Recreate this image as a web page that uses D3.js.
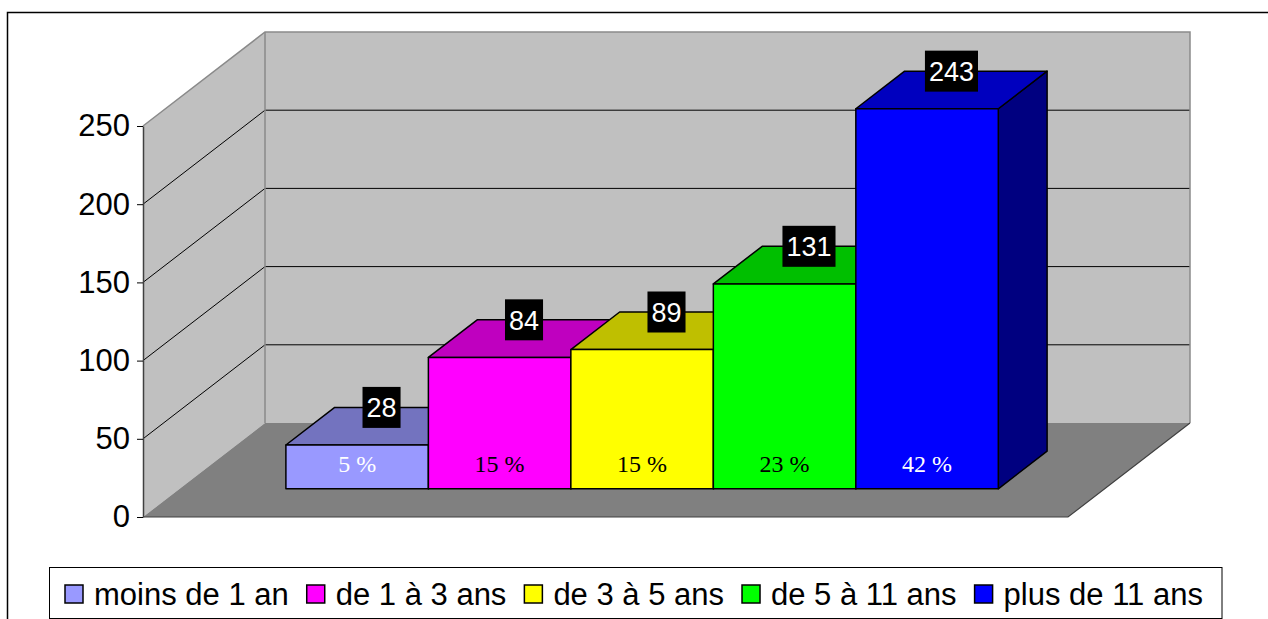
<!DOCTYPE html>
<html>
<head>
<meta charset="utf-8">
<script src="https://cdn.jsdelivr.net/npm/d3@7"></script>
<style>
  body { margin: 0; background: #fff; }
  svg { display: block; }
</style>
</head>
<body>
<script>
"use strict";
(function(){
    const categories = ["moins de 1 an", "de 1 à 3 ans", "de 3 à 5 ans", "de 5 à 11 ans", "plus de 11 ans"]
    const counts = [28, 84, 89, 131, 243]
    const shares = [5, 15, 15, 23, 42]
    const yTicks = [0, 50, 100, 150, 200, 250]
    const colors = ["#9999ff", "#ff00ff", "#ffff00", "#00ff00", "#0000ff"]
    const shareColors = ["#ffffff", "#000000", "#000000", "#000000", "#ffffff"]

    const m = {
        width: 1268,
        height: 619,
        floorLeft: 143,
        floorRight: 1068,
        floorY: 517,
        topY: 126,
        depthX: 122,
        depthY: 94,
        barZ0: 0.3,
        barZ1: 0.7
    }

    const svg = d3.select("body").append("svg")
        .attr("width", m.width)
        .attr("height", m.height)

    // outer chart border (runs off the right and bottom of the page)
    svg.append("rect")
        .attr("x", 7.5).attr("y", 12.5)
        .attr("width", 1300).attr("height", 700)
        .attr("fill", "none").attr("stroke", "#000").attr("stroke-width", 1.5)

    const y = d3.scaleLinear().domain([0, 250]).range([m.floorY, m.topY])
    const x = d3.scaleBand()
        .domain(categories)
        .range([m.floorLeft, m.floorRight])
        .paddingInner(0)
        .paddingOuter(0.746)

    // project a point at floor x, value v and depth z (0 = front, 1 = back)
    const P = (px, v, z) => [px + z * m.depthX, y(v) - z * m.depthY]
    const poly = pts => pts.map(p => p.join(",")).join(" ")

    // walls and floor
    const yMax = d3.max(yTicks)
    svg.append("polygon")
        .attr("points", poly([P(m.floorLeft, 0, 0), P(m.floorLeft, yMax, 0), P(m.floorLeft, yMax, 1), P(m.floorLeft, 0, 1)]))
        .attr("fill", "#c0c0c0")
    svg.append("polygon")
        .attr("points", poly([P(m.floorLeft, 0, 1), P(m.floorLeft, yMax, 1), P(m.floorRight, yMax, 1), P(m.floorRight, 0, 1)]))
        .attr("fill", "#c0c0c0")
    svg.append("polygon")
        .attr("points", poly([P(m.floorLeft, 0, 0), P(m.floorLeft, 0, 1), P(m.floorRight, 0, 1), P(m.floorRight, 0, 0)]))
        .attr("fill", "#808080")

    // gridlines
    const grid = svg.append("g")
    yTicks.filter(t => t > 0 && t < yMax).forEach(t => {
        grid.append("polyline")
            .attr("points", poly([P(m.floorLeft, t, 0), P(m.floorLeft, t, 1), P(m.floorRight, t, 1)]))
            .attr("fill", "none").attr("stroke", "#000").attr("stroke-width", 1)
    })

    // wall outlines
    svg.append("polyline")
        .attr("points", poly([P(m.floorLeft, yMax, 0), P(m.floorLeft, yMax, 1), P(m.floorRight, yMax, 1), P(m.floorRight, 0, 1)]))
        .attr("fill", "none").attr("stroke", "#8a8a8a").attr("stroke-width", 1.5)
    svg.append("line")
        .attr("x1", P(m.floorLeft, 0, 1)[0]).attr("y1", P(m.floorLeft, 0, 1)[1])
        .attr("x2", P(m.floorLeft, yMax, 1)[0]).attr("y2", P(m.floorLeft, yMax, 1)[1])
        .attr("stroke", "#8a8a8a").attr("stroke-width", 1.5)
    svg.append("polyline")
        .attr("points", poly([P(m.floorLeft, 0, 0), P(m.floorRight, 0, 0), P(m.floorRight, 0, 1)]))
        .attr("fill", "none").attr("stroke", "#404040").attr("stroke-width", 1.2)

    // bars
    const bars = svg.append("g")
    counts.forEach((v, i) => {
        const x0 = x(categories[i])
        const x1 = x0 + x.bandwidth()
        const c = d3.rgb(colors[i])
        const top = d3.rgb(c.r * 0.75, c.g * 0.75, c.b * 0.75)
        const side = d3.rgb(c.r * 0.5, c.g * 0.5, c.b * 0.5)
        const g = bars.append("g")
            .attr("stroke", "#000").attr("stroke-width", 1.5).attr("stroke-linejoin", "round")
        g.append("polygon")
            .attr("points", poly([P(x1, 0, m.barZ0), P(x1, v, m.barZ0), P(x1, v, m.barZ1), P(x1, 0, m.barZ1)]))
            .attr("fill", side)
        g.append("polygon")
            .attr("points", poly([P(x0, v, m.barZ0), P(x0, v, m.barZ1), P(x1, v, m.barZ1), P(x1, v, m.barZ0)]))
            .attr("fill", top)
        g.append("polygon")
            .attr("points", poly([P(x0, 0, m.barZ0), P(x0, v, m.barZ0), P(x1, v, m.barZ0), P(x1, 0, m.barZ0)]))
            .attr("fill", c)

        // percentage inside the front face
        const fc = P(x0 + x.bandwidth() / 2, 0, m.barZ0)
        svg.append("text")
            .attr("x", fc[0]).attr("y", fc[1] - 17)
            .attr("text-anchor", "middle")
            .attr("font-family", "'Liberation Serif', 'Times New Roman', serif")
            .attr("font-size", 24)
            .attr("fill", shareColors[i])
            .text(shares[i] + " %")
    })

    // value labels on the top faces
    counts.forEach((v, i) => {
        const c = P(x(categories[i]) + x.bandwidth() / 2, v, m.barZ1)
        const cx = c[0] - (m.barZ1 - (m.barZ0 + m.barZ1) / 2) * m.depthX
        const g = svg.append("g")
        const t = g.append("text")
            .attr("x", cx).attr("y", c[1])
            .attr("dy", "0.36em")
            .attr("text-anchor", "middle")
            .attr("font-family", "'Liberation Sans', Arial, sans-serif")
            .attr("font-size", 27)
            .attr("fill", "#fff")
            .text(v)
        const w = t.node().getComputedTextLength()
        g.insert("rect", "text")
            .attr("x", cx - w / 2 - 4).attr("y", c[1] - 20.5)
            .attr("width", w + 8).attr("height", 41)
            .attr("fill", "#000")
    })

    // y axis
    const yAxis = d3.axisLeft(y).tickValues(yTicks).tickSize(6).tickSizeOuter(0).tickPadding(7)
    const ax = svg.append("g")
        .attr("transform", `translate(${m.floorLeft},0)`)
        .call(yAxis)
    ax.select(".domain").attr("stroke", "#404040").attr("stroke-width", 1.5)
    ax.selectAll(".tick line").attr("stroke", "#000")
    ax.selectAll(".tick text")
        .attr("font-family", "'Liberation Sans', Arial, sans-serif")
        .attr("font-size", 31)
        .attr("fill", "#000")

    // legend
    const legend = svg.append("g")
    const box = legend.append("rect")
        .attr("fill", "#fff").attr("stroke", "#000").attr("stroke-width", 1)
    let lx = 65
    categories.forEach((cat, i) => {
        legend.append("rect")
            .attr("x", lx).attr("y", 585)
            .attr("width", 18).attr("height", 18)
            .attr("fill", colors[i]).attr("stroke", "#000").attr("stroke-width", 1.5)
        const t = legend.append("text")
            .attr("x", lx + 29).attr("y", 605)
            .attr("font-family", "'Liberation Sans', Arial, sans-serif")
            .attr("font-size", 31)
            .text(cat)
        lx += 29 + t.node().getComputedTextLength() + 18
    })
    box.attr("x", 49.5).attr("y", 567.5).attr("width", 1222 - 49.5).attr("height", 51)
})()
</script>
</body>
</html>
